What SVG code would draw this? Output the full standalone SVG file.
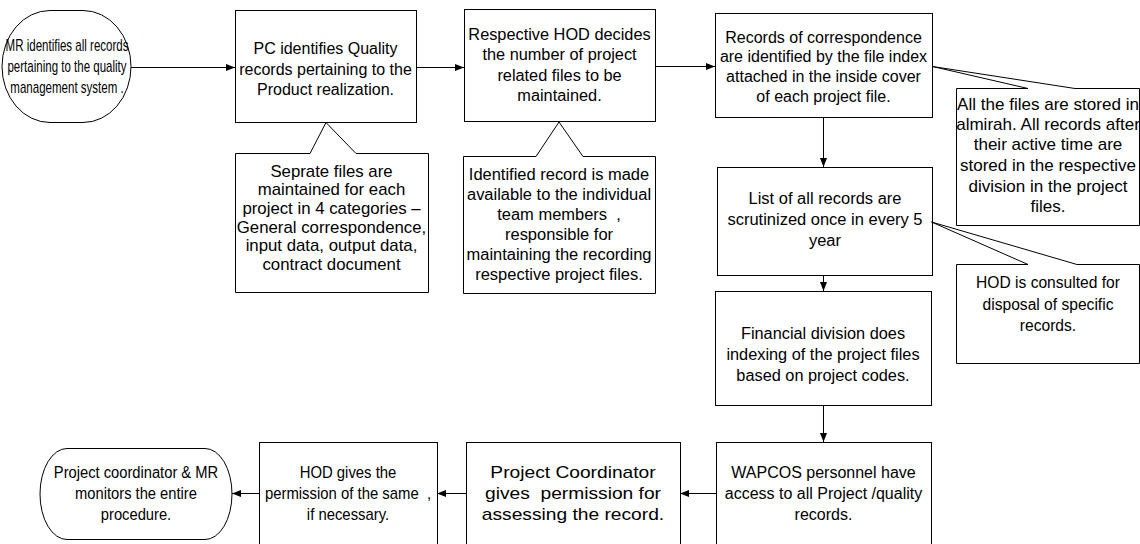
<svg xmlns="http://www.w3.org/2000/svg" width="1140" height="544" viewBox="0 0 1140 544">
<style>
.box{fill:#fff;stroke:#000;stroke-width:1}
.t{font-family:"Liberation Sans",Arial,sans-serif;font-size:16px;fill:#000;text-anchor:middle}
.c{stroke:#000;stroke-width:1;fill:none;marker-end:url(#ah)}
</style>
<defs>
<marker id="ah" markerUnits="userSpaceOnUse" markerWidth="9" markerHeight="7" refX="9" refY="3.5" orient="auto">
<path d="M0,0 L9,3.5 L0,7 Z" fill="#000"/>
</marker>
</defs>
<rect x="0" y="0" width="1140" height="544" fill="#fff"/>

<g id="connectors">
<line class="c" x1="131" y1="67.5" x2="235" y2="67.5"/>
<line class="c" x1="416" y1="67.5" x2="464" y2="67.5"/>
<line class="c" x1="655" y1="66.5" x2="715" y2="66.5"/>
<line class="c" x1="823.5" y1="117" x2="823.5" y2="167"/>
<line class="c" x1="823.5" y1="275" x2="823.5" y2="291"/>
<line class="c" x1="823.5" y1="405" x2="823.5" y2="442"/>
<line class="c" x1="716" y1="493.5" x2="680" y2="493.5"/>
<line class="c" x1="466" y1="493.5" x2="437" y2="493.5"/>
<line class="c" x1="259" y1="493.5" x2="232" y2="493.5"/>
</g>

<g id="n1">
<path class="box" d="M50,10.5 H83 A48,56 0 0 1 83,122.5 H50 A48,56 0 0 1 50,10.5 Z"/>
<g class="t" transform="translate(67,0) scale(0.72,1)">
<text x="0" y="51">MR identifies all records</text>
<text x="0" y="72">pertaining to the quality</text>
<text x="0" y="93">management system .</text>
</g>
</g>

<g id="n2">
<rect class="box" x="235.5" y="10.5" width="181" height="112"/>
<g class="t" transform="translate(325.5,0)">
<text x="0" y="54">PC identifies Quality</text>
<text x="0" y="75">records pertaining to the</text>
<text x="0" y="95">Product realization.</text>
</g>
</g>

<g id="c1">
<path class="box" d="M235.5,153.5 H310 L326,122.5 L356,153.5 H428.5 V292.5 H235.5 Z"/>
<g class="t" transform="translate(331.5,0) scale(1.05,1)">
<text x="0" y="177">Seprate files are</text>
<text x="0" y="195.5">maintained for each</text>
<text x="0" y="214">project in 4 categories –</text>
<text x="0" y="233">General correspondence,</text>
<text x="0" y="251.5">input data, output data,</text>
<text x="0" y="270">contract document</text>
</g>
</g>

<g id="n3">
<rect class="box" x="464.5" y="9.5" width="191" height="112"/>
<g class="t" transform="translate(559.5,0) scale(1.02,1)">
<text x="0" y="40">Respective HOD decides</text>
<text x="0" y="60">the number of project</text>
<text x="0" y="81">related files to be</text>
<text x="0" y="101">maintained.</text>
</g>
</g>

<g id="c2">
<path class="box" d="M463.5,156.5 H536 L559,122 L583,156.5 H655.5 V293.5 H463.5 Z"/>
<g class="t" transform="translate(559,0) scale(1.03,1)">
<text x="0" y="180">Identified record is made</text>
<text x="0" y="200">available to the individual</text>
<text x="0" y="220">team members&#160; ,</text>
<text x="0" y="240">responsible for</text>
<text x="0" y="260">maintaining the recording</text>
<text x="0" y="280">respective project files.</text>
</g>
</g>

<g id="n4">
<rect class="box" x="715.5" y="13.5" width="217" height="104"/>
<g class="t" transform="translate(823.5,0)">
<text x="0" y="43">Records of correspondence</text>
<text x="0" y="62">are identified by the file index</text>
<text x="0" y="82">attached in the inside cover</text>
<text x="0" y="102">of each project file.</text>
</g>
</g>

<g id="c3">
<path class="box" d="M956.5,88.5 H1028 L932.5,66.5 L1075,88.5 H1139.5 V225.5 H956.5 Z"/>
<g class="t" transform="translate(1048,0) scale(1.066,1)">
<text x="0" y="110">All the files are stored in</text>
<text x="0" y="130">almirah. All records after</text>
<text x="0" y="150">their active time are</text>
<text x="0" y="171">stored in the respective</text>
<text x="0" y="192">division in the project</text>
<text x="0" y="212">files.</text>
</g>
</g>

<g id="n5">
<rect class="box" x="717.5" y="167.5" width="215" height="108"/>
<g class="t" transform="translate(825,0) scale(1.03,1)">
<text x="0" y="204">List of all records are</text>
<text x="0" y="225">scrutinized once in every 5</text>
<text x="0" y="246">year</text>
</g>
</g>

<g id="c4">
<path class="box" d="M956.5,264.5 H1028 L931.5,222 L1077,264.5 H1139.5 V363.5 H956.5 Z"/>
<g class="t" transform="translate(1048,0) scale(0.975,1)">
<text x="0" y="288">HOD is consulted for</text>
<text x="0" y="310">disposal of specific</text>
<text x="0" y="331">records.</text>
</g>
</g>

<g id="n6">
<rect class="box" x="715.5" y="291.5" width="216" height="114"/>
<g class="t" transform="translate(823,0) scale(1.02,1)">
<text x="0" y="339">Financial division does</text>
<text x="0" y="360">indexing of the project files</text>
<text x="0" y="381">based on project codes.</text>
</g>
</g>

<g id="n7">
<rect class="box" x="716.5" y="442.5" width="215" height="120"/>
<g class="t" transform="translate(823.5,0)">
<text x="0" y="478">WAPCOS personnel have</text>
<text x="0" y="499">access to all Project /quality</text>
<text x="0" y="520">records.</text>
</g>
</g>

<g id="n8">
<rect class="box" x="466.5" y="442.5" width="214" height="120"/>
<g class="t" transform="translate(573,0) scale(1.2,1)">
<text x="0" y="478">Project Coordinator</text>
<text x="0" y="499">gives&#160; permission for</text>
<text x="0" y="520">assessing the record.</text>
</g>
</g>

<g id="n9">
<rect class="box" x="259.5" y="442.5" width="178" height="120"/>
<g class="t" transform="translate(348,0) scale(0.93,1)">
<text x="0" y="478">HOD gives the</text>
<text x="0" y="499">permission of the same&#160; ,</text>
<text x="0" y="520">if necessary.</text>
</g>
</g>

<g id="n10">
<path class="box" d="M67,448.5 H205 A27,45.5 0 0 1 205,539.5 H67 A27,45.5 0 0 1 67,448.5 Z"/>
<g class="t" transform="translate(136,0) scale(0.92,1)">
<text x="0" y="478">Project coordinator &amp; MR</text>
<text x="0" y="499">monitors the entire</text>
<text x="0" y="520">procedure.</text>
</g>
</g>
</svg>
